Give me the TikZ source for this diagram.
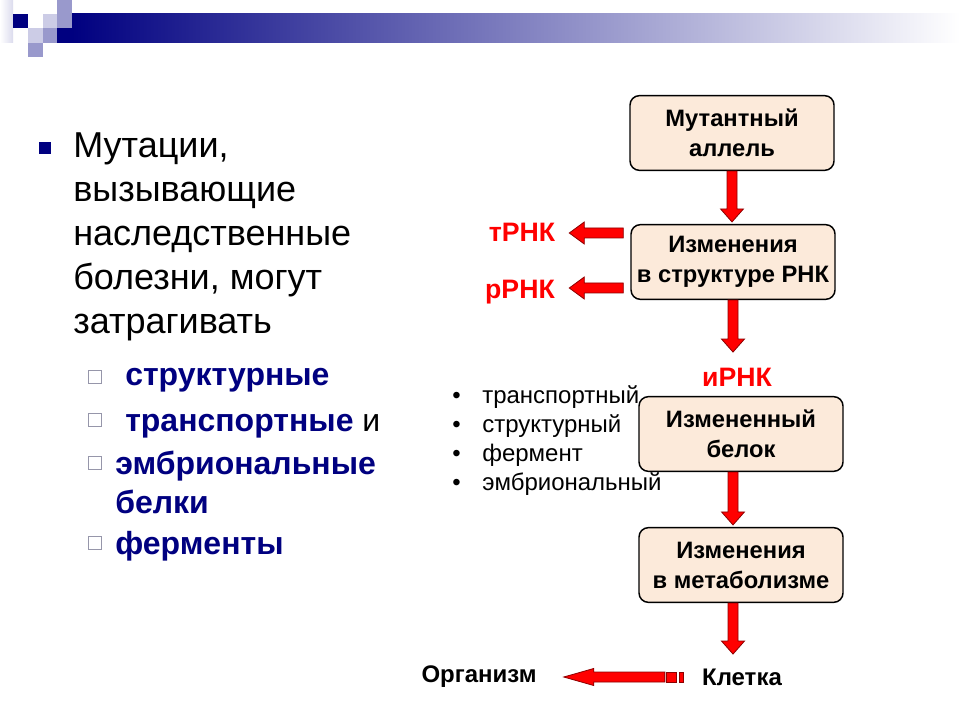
\documentclass[tikz,border=0pt]{standalone}
\usepackage{fontspec}
\setmainfont{Liberation Sans}
\usetikzlibrary{calc,positioning,shapes,arrows.meta}

\definecolor{navy}{RGB}{0,0,128}
\definecolor{lav}{RGB}{204,204,230}
\definecolor{lavmid}{RGB}{153,153,204}
\definecolor{boxfill}{RGB}{252,234,218}
\definecolor{arrowred}{RGB}{255,0,0}
\definecolor{arrowedge}{RGB}{140,0,0}
\definecolor{bulletgray}{RGB}{150,150,170}

\tikzset{
  stage/.style={draw=black, line width=1.1pt, fill=boxfill, rounded corners=7pt,
    minimum width=153pt, minimum height=56pt, align=center, inner sep=0pt,
    font=\bfseries\fontsize{17.8}{22.5}\selectfont},
  redarrow/.style={fill=arrowred, draw=arrowedge, line width=0.6pt, line join=miter},
  rnalabel/.style={text=red, inner sep=0pt, font=\bfseries\fontsize{20}{22}\selectfont},
  endlabel/.style={inner sep=0pt, font=\bfseries\fontsize{18}{20}\selectfont},
  subitem/.style={anchor=base west, inner sep=0pt, text=navy,
    font=\bfseries\fontsize{24}{30}\selectfont},
  roleword/.style={anchor=base west, inner sep=0pt, font=\fontsize{18}{20}\selectfont},
  hollow/.style={draw=bulletgray, fill=white, line width=0.6pt},
}

% fat red arrow: from, to, head length, head half width
\newcommand{\fatarrow}[4]{%
  \path (#1) coordinate (fa-t) (#2) coordinate (fa-h);
  \path ($(fa-h)!#3!(fa-t)$) coordinate (fa-b);
  \filldraw[redarrow] ($(fa-t)!3.75pt!90:(fa-h)$) -- ($(fa-b)!3.75pt!-90:(fa-t)$)
    -- ($(fa-b)!#4!-90:(fa-t)$) -- (fa-h) -- ($(fa-b)!#4!90:(fa-t)$)
    -- ($(fa-b)!3.75pt!90:(fa-t)$) -- ($(fa-t)!3.75pt!-90:(fa-h)$) -- cycle;
}

\begin{document}
\begin{tikzpicture}[x=0.75pt, y=-0.75pt]

    \fill[white] (0,0) rectangle (960,720);
    \useasboundingbox (0,0) rectangle (960,720);

    % title bar
    \shade[left color=white, right color=lav!70] (0,0) rectangle (13,43);
    \fill[navy] (13,14) rectangle (28,28);
    \fill[lav] (43,14) rectangle (57,28);
    \fill[lavmid] (57,0) rectangle (72,28);
    \fill[lav] (28,28) rectangle (43,43);
    \fill[lavmid] (43,28) rectangle (57,43);
    \fill[lavmid] (28,43) rectangle (43,57);
    \fill[navy] (57,28) rectangle (72,43);
    \shade[left color=navy, right color=white] (72,14) rectangle (960,43);

    % left text
    \fill[navy] (39,142) rectangle (51,154);
    \node[anchor=north west, inner sep=0pt, align=left,
          font=\fontsize{27}{33}\selectfont] (mut) at (73,132)
          {Мутации,\\вызывающие\\наследственные\\болезни, могут\\затрагивать};

    \foreach \y in {377,420,463,543}{
       \draw[hollow] (88,\y-6.5) rectangle (101,\y+6.5);
    }
    \node[subitem] (it1) at (125,385) {структурные};
    \node[subitem] (it2) at (125,431) {транспортные \textcolor{black}{\mdseries и}};
    \node[subitem] (it3) at (115,474) {эмбриональные};
    \node[subitem] (it3b) at (115,513) {белки};
    \node[subitem] (it4) at (115,554) {ферменты};

    % protein roles
    \foreach \w [count=\i] in {транспортный,структурный,фермент,эмбриональный}{
       \node[roleword] (role\i) at (482,374+29*\i) {\w};
       \node[roleword] at (452,374+29*\i) {•};
    }

    % chain
    \node[stage] (box1) at (732,133) {Мутантный\\аллель};
    \node[stage] (box2) at (733,262) {Изменения\\в структуре РНК};
    \node[stage] (box3) at (741,434) {Измененный\\белок};
    \node[stage] (box4) at (741,565) {Изменения\\в метаболизме};

    \node[rnalabel] (trna) at (522,232) {тРНК};
    \node[rnalabel] (rrna) at (520,292) {рРНК};
    \node[rnalabel] (mrna) at (737,377) {иРНК};

    \node[endlabel] (kletka) at (742,677) {Клетка};
    \node[endlabel] (organism) at (479,677) {Организм};

    \fatarrow{box1.south}{$(box1.south |- box2.north)+(0,-2)$}{9.75pt}{8.6pt}
    \fatarrow{$(box2.west)+(-7,-29)$}{$(box2.west)+(-61,-29)$}{11.25pt}{8.25pt}
    \fatarrow{$(box2.west)+(-7,26)$}{$(box2.west)+(-61,26)$}{11.25pt}{8.25pt}
    \fatarrow{box2.south}{$(box2.south)+(0,52)$}{9.75pt}{8.6pt}
    \fatarrow{$(box3.south)+(-8,0)$}{$(box4.north)+(-8,-2)$}{9.75pt}{8.6pt}
    \fatarrow{$(box4.south)+(-8,0)$}{$(box4.south)+(-8,51)$}{9.75pt}{8.6pt}

    \fatarrow{$(kletka.west)+(-37,0)$}{$(organism.east)+(27,0)$}{22.5pt}{6.4pt}
    \filldraw[redarrow] ($(kletka.west)+(-35,-5)$) rectangle ($(kletka.west)+(-25,5)$);
    \filldraw[redarrow] ($(kletka.west)+(-22,-5)$) rectangle ($(kletka.west)+(-18,5)$);

\end{tikzpicture}
\end{document}
